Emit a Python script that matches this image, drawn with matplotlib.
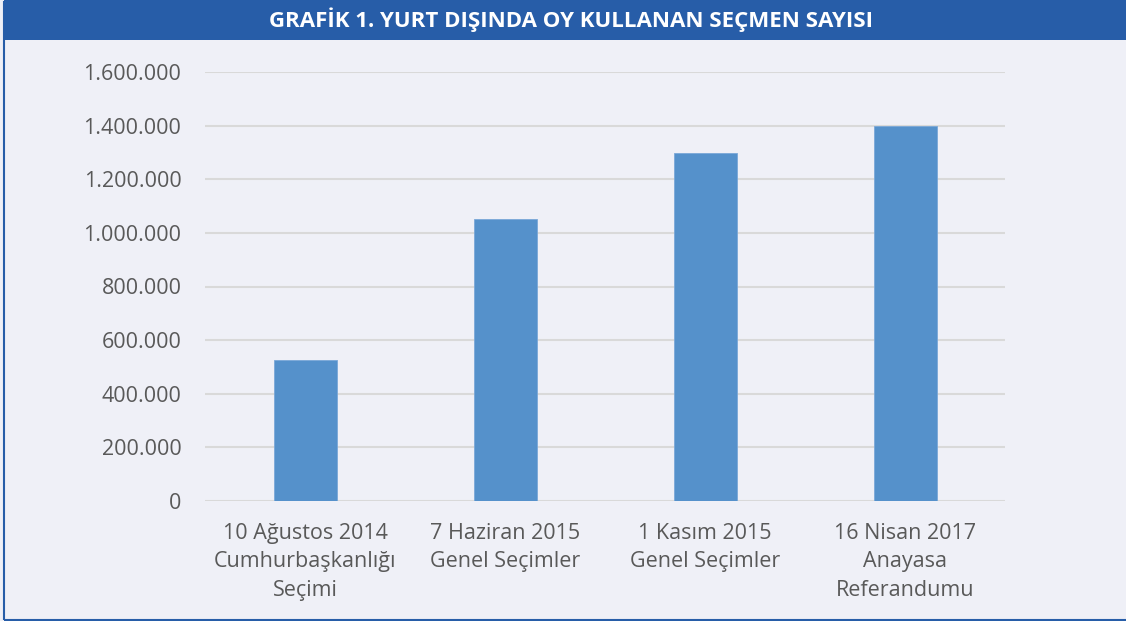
import numpy as np
import matplotlib
matplotlib.use("Agg")
import matplotlib.pyplot as plt
from matplotlib.patches import Rectangle
from matplotlib.ticker import FuncFormatter

# data
categories = ["10 Ağustos 2014\nCumhurbaşkanlığı\nSeçimi",
              "7 Haziran 2015\nGenel Seçimler",
              "1 Kasım 2015\nGenel Seçimler",
              "16 Nisan 2017\nAnayasa\nReferandumu"]
voters = [527000, 1053000, 1298000, 1399000]
y_ticks = [0, 200000, 400000, 600000, 800000, 1000000, 1200000, 1400000, 1600000]

title = "GRAFİK 1. YURT DIŞINDA OY KULLANAN SEÇMEN SAYISI"

bg = "#eff0f7"
bar_col = "#5591cb"
head_col = "#275da8"
txt_col = "#595959"

plt.rcParams["font.family"] = ["Open Sans", "DejaVu Sans"]

fig = plt.figure(figsize=(11.26, 6.21), dpi=100)
fig.patch.set_facecolor(bg)

# header band and frame
fig.patches.append(Rectangle((4/1126, 0.002), 1.2, 0.995, transform=fig.transFigure,
                             facecolor="none", edgecolor=head_col, linewidth=1.5))
fig.patches.append(Rectangle((4/1126, 1 - 40/621), 1.0, 40/621, transform=fig.transFigure,
                             facecolor=head_col, edgecolor="none"))
fig.text(571/1126, 1 - 20/621, title, color="white", fontsize=16, fontweight="bold",
         ha="center", va="center")

ax = fig.add_axes([205/1126, 1 - 501/621, 800/1126, 429/621])
ax.set_facecolor(bg)
x = np.arange(len(categories))
ax.bar(x, voters, width=0.315, color=bar_col, edgecolor="#7aa8d8", linewidth=0.6, zorder=3)

ax.set_xlim(-0.5, len(categories) - 0.5)
ax.set_ylim(0, 1600000)
ax.set_yticks(y_ticks)
ax.yaxis.set_major_formatter(FuncFormatter(lambda v, p: f"{int(v):,}".replace(",", ".")))
ax.set_xticks(x)
ax.set_xticklabels(categories)
ax.grid(axis="y", color="#d9d9d9", linewidth=1.5, zorder=0)
for s in ax.spines.values():
    s.set_visible(False)
ax.tick_params(axis="both", length=0, labelsize=15.5, colors=txt_col)
ax.tick_params(axis="y", pad=17)
ax.tick_params(axis="x", pad=16)
for lbl in ax.get_xticklabels():
    lbl.set_linespacing(1.45)

fig.savefig("out.png", dpi=100, facecolor=bg)
